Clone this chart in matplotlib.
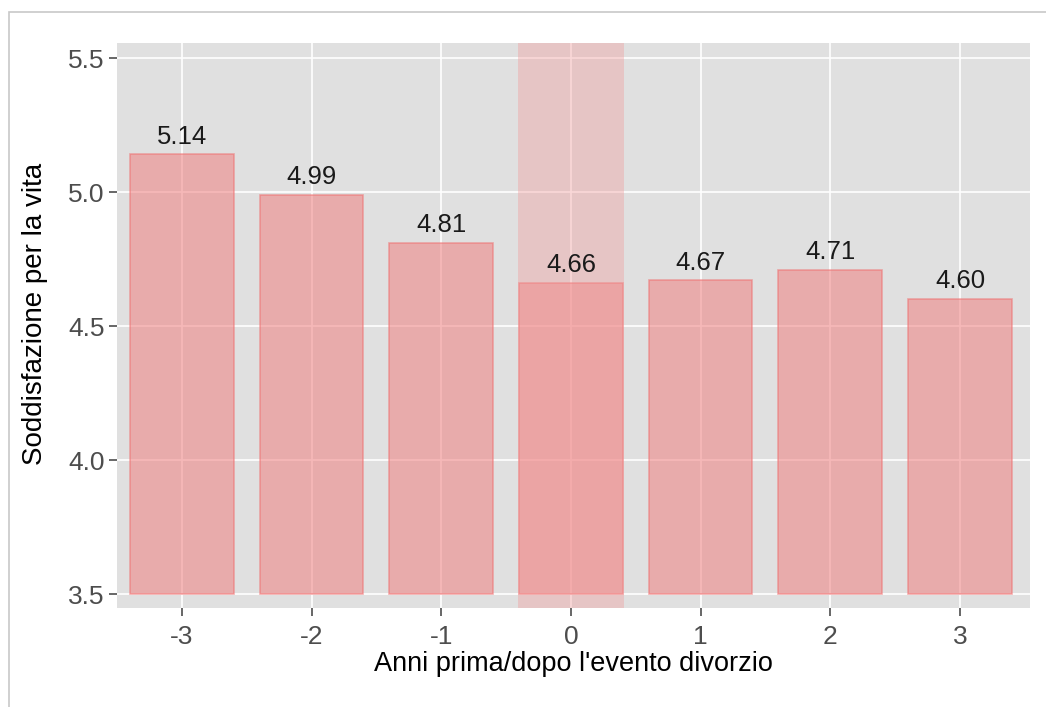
import matplotlib.pyplot as plt
from matplotlib.patches import Rectangle

plt.rcParams["font.family"] = ["Liberation Sans", "DejaVu Sans"]

# ---- dati ----
anni = [-3, -2, -1, 0, 1, 2, 3]
soddisfazione = [5.14, 4.99, 4.81, 4.66, 4.67, 4.71, 4.60]
anno_evento = 0
base = 3.5

fig = plt.figure(figsize=(10.46, 7.07), dpi=100)

# cornice grigia (come un riquadro ritagliato)
fig.patches.append(Rectangle((9 / 1046, -0.05), 1.2, 1 - 12 / 707 + 0.05,
                             transform=fig.transFigure, fill=False,
                             edgecolor="#c8c8c8", linewidth=1.2))

ax = fig.add_axes([117 / 1046, 1 - 608 / 707, (1030 - 117) / 1046, (608 - 43) / 707])
ax.set_facecolor("#e0e0e0")
for s in ax.spines.values():
    s.set_visible(False)

ax.set_xlim(-3.5, 3.54)
ax.set_ylim(3.448, 5.556)

ax.grid(True, color="white", linewidth=1.2)
ax.set_axisbelow(True)

# evidenzia anno dell'evento
ax.axvspan(anno_evento - 0.41, anno_evento + 0.41, color="#f29a9a", alpha=0.38,
           linewidth=0, zorder=3)

heights = [v - base for v in soddisfazione]
ax.bar(anni, heights, bottom=base, width=0.8, color="#f08080", alpha=0.55,
       edgecolor="#ef6f6f", linewidth=1.2, zorder=2)

for x, v in zip(anni, soddisfazione):
    ax.text(x, v + 0.022, f"{v:.2f}", ha="center", va="bottom", fontsize=18.5,
            color="#1a1a1a", zorder=4)

ax.set_xticks(anni)
ax.set_xticklabels([str(a) for a in anni])
ax.set_yticks([3.5, 4.0, 4.5, 5.0, 5.5])
ax.set_yticklabels(["3.5", "4.0", "4.5", "5.0", "5.5"])
ax.tick_params(axis="both", colors="#4d4d4d", labelsize=19, length=6, width=1.2,
               labelcolor="#4d4d4d")
ax.tick_params(axis="x", pad=6)
ax.tick_params(axis="y", pad=3)

ax.set_xlabel("Anni prima/dopo l'evento divorzio", fontsize=19.5)
ax.xaxis.set_label_coords(0.5, -0.076)
ax.set_ylabel("Soddisfazione per la vita", fontsize=20)
ax.yaxis.set_label_coords(-0.076, 0.52)

plt.savefig("out.png", dpi=100)
